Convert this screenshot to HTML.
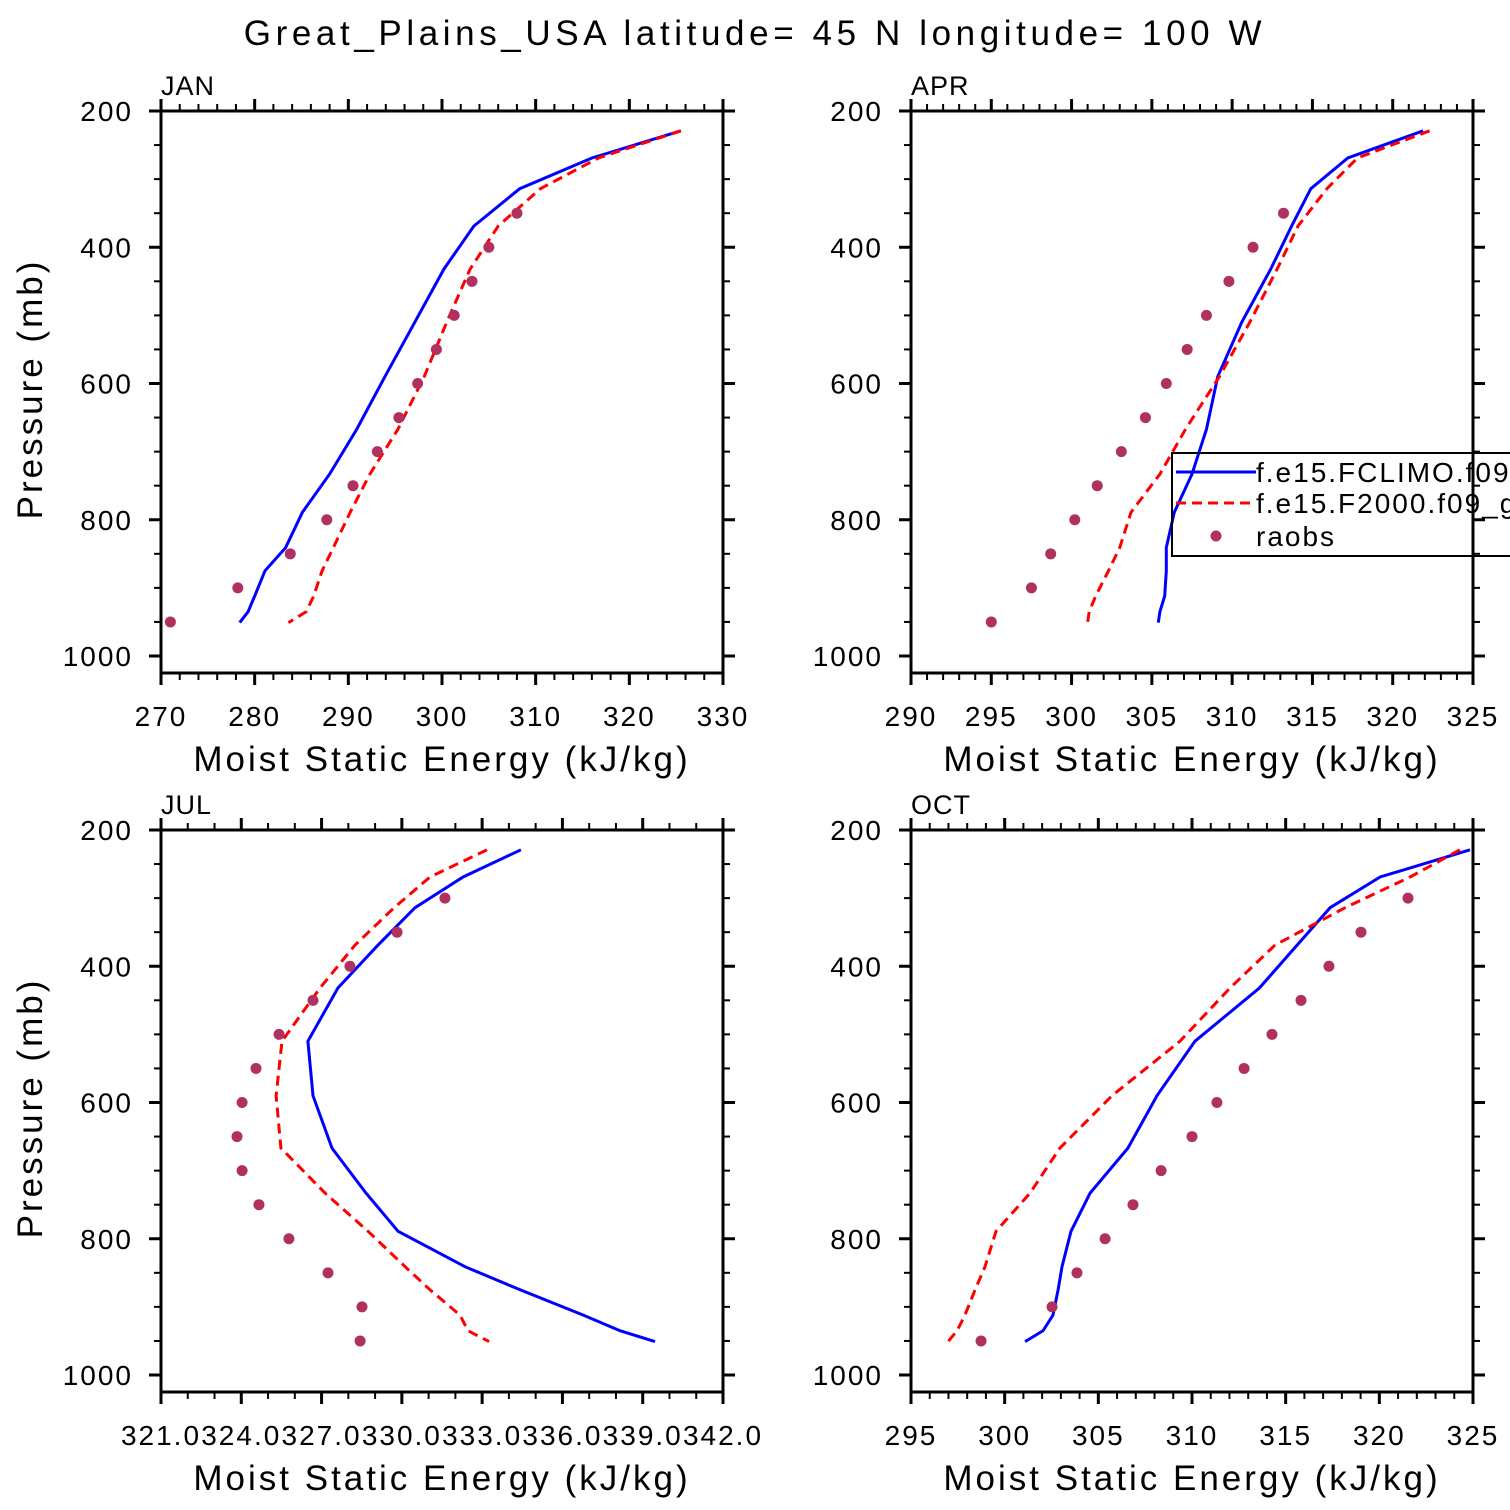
<!DOCTYPE html>
<html><head><meta charset="utf-8"><style>
html,body{margin:0;padding:0;background:#fff;}
svg{display:block;font-family:"Liberation Sans","DejaVu Sans",sans-serif;}
</style></head><body>
<svg id="chart" width="1510" height="1510" viewBox="0 0 1510 1510">
<text x="755" y="45" font-size="35" text-anchor="middle" letter-spacing="4.6">Great_Plains_USA  latitude= 45 N longitude= 100 W</text>
</svg>
<script>
const levels=[229,269,314,369,432,510,590,667,733,789,841,875,912,935,951];
const obsLevels=[300,350,400,450,500,550,600,650,700,750,800,850,900,950];
const janBlue=[325.5,316.0,308.3,303.4,300.2,297.1,293.9,290.9,288.0,285.1,283.3,281.1,280.0,279.3,278.4];
const janRed=[325.5,316.7,310.5,306.0,303.0,300.5,298.1,295.3,292.3,290.2,288.4,287.2,286.3,285.5,283.6];
const janObs=[null,308.0,305.0,303.2,301.3,299.4,297.4,295.4,293.1,290.5,287.7,283.8,278.2,271.0];
const aprBlue=[321.9,317.2,314.9,313.7,312.4,310.6,309.1,308.4,307.5,306.4,305.9,305.9,305.8,305.5,305.4];
const aprRed=[322.3,317.8,315.9,314.1,312.8,311.1,309.2,307.1,305.5,303.7,303.0,302.3,301.5,301.1,301.0];
const aprObs=[null,313.2,311.3,309.8,308.4,307.2,305.9,304.6,303.1,301.6,300.2,298.7,297.5,295.0];
const julBlue=[334.45,332.29,330.49,329.11,327.61,326.49,326.68,327.39,328.66,329.86,332.36,334.42,336.77,338.15,339.46];
const julRed=[333.18,331.05,329.71,328.25,326.94,325.52,325.30,325.48,327.13,328.74,330.12,331.05,332.17,332.47,333.26];
const julObs=[331.61,329.82,328.06,326.68,325.41,324.55,324.03,323.84,324.03,324.66,325.78,327.24,328.51,328.44];
const octBlue=[324.84,320.04,317.37,315.61,313.6,310.16,308.13,306.58,304.56,303.54,303.06,302.85,302.58,302.05,301.09];
const octRed=[324.3,321.64,318.17,314.43,312.03,309.36,305.73,302.95,301.35,299.54,298.95,298.42,297.88,297.46,296.98];
const octObs=[321.53,319.02,317.31,315.82,314.27,312.78,311.33,310.0,308.35,306.85,305.36,303.86,302.53,298.74];
const pTicks=[200,400,600,800,1000];
const janX=[270,280,290,300,310,320,330];
const aprX=[290,295,300,305,310,315,320,325];
const julX=[321.0,324.0,327.0,330.0,333.0,336.0,339.0,342.0];
const octX=[295,300,305,310,315,320,325];

const NS='http://www.w3.org/2000/svg';
const svg=document.getElementById('chart');
function mk(tag,attrs,parent){const e=document.createElementNS(NS,tag);for(const k in attrs)e.setAttribute(k,attrs[k]);(parent||svg).appendChild(e);return e;}

function panel(cfg){
  const {name,left,top,xmin,xmax,xticks,minorStep,dec,blue,red,obs}=cfg;
  const W=562,H=562;
  const g=mk('g',{});
  
  
  const xs=v=>left+(v-xmin)/(xmax-xmin)*W;
  const ys=p=>top+(p-200)*0.68125;
  const clipId='clip-'+name;
  const cp=mk('clipPath',{id:clipId},g);mk('rect',{x:left,y:top,width:W,height:H},cp);
  const nMinor=Math.round((xmax-xmin)/minorStep);
  for(let i=0;i<=nMinor;i++){
    const v=xmin+i*minorStep;const x=xs(v);
    const isMajor=xticks.some(t=>Math.abs(t-v)<1e-6);
    const L=isMajor?12:7;
    mk('line',{x1:x,y1:top+H,x2:x,y2:top+H+L,stroke:'#000','stroke-width':isMajor?3:2},g);
    mk('line',{x1:x,y1:top,x2:x,y2:top-L,stroke:'#000','stroke-width':isMajor?3:2},g);
  }
  for(let p=200;p<=1000;p+=50){
    const y=ys(p);const isMajor=p%200===0;const L=isMajor?12:7;
    mk('line',{x1:left,y1:y,x2:left-L,y2:y,stroke:'#000','stroke-width':isMajor?3:2},g);
    mk('line',{x1:left+W,y1:y,x2:left+W+L,y2:y,stroke:'#000','stroke-width':isMajor?3:2},g);
  }
  xticks.forEach(t=>{
    const tx=mk('text',{x:xs(t),y:top+H+53,'font-size':28,'text-anchor':'middle','letter-spacing':'2'},g);
    tx.textContent=t.toFixed(dec);
    
    
  });
  pTicks.forEach(p=>{
    const tx=mk('text',{x:left-28,y:ys(p)+10,'font-size':28,'text-anchor':'end','letter-spacing':'2'},g);
    tx.textContent=p;
    
    
  });
  const ttl=mk('text',{x:left,y:top-16,'font-size':27,'letter-spacing':'1'},g);ttl.textContent=cfg.label;
  
  
  const xt=mk('text',{x:left+W/2,y:top+H+98,'font-size':35,'text-anchor':'middle','letter-spacing':'3'},g);
  xt.textContent='Moist Static Energy (kJ/kg)';
  
  
  if(cfg.ylabel){
    const yt=mk('text',{x:0,y:0,'font-size':35,'text-anchor':'middle','letter-spacing':'3',transform:`translate(42,${top+H/2-3}) rotate(-90)`},g);
    yt.textContent='Pressure (mb)';
    
    
  }
  const dg=mk('g',{'clip-path':`url(#${clipId})`},g);
  const pts=arr=>arr.map((v,i)=>xs(v).toFixed(1)+','+ys(levels[i]).toFixed(1)).join(' ');
  const b=mk('polyline',{points:pts(blue),fill:'none',stroke:'#0000ff','stroke-width':3},dg);
  
  
  const r=mk('polyline',{points:pts(red),fill:'none',stroke:'#ff0000','stroke-width':3,'stroke-dasharray':'10,6'},dg);
  
  
  obs.forEach((v,i)=>{
    if(v==null)return;
    const c=mk('circle',{cx:xs(v),cy:ys(obsLevels[i]),r:5.5,fill:'#b03060'},dg);
    
    
  });
  mk('rect',{x:left,y:top,width:W,height:H,fill:'none',stroke:'#000','stroke-width':3},g);
}
panel({name:'jan',label:'JAN',left:161,top:111,xmin:270,xmax:330,xticks:janX,minorStep:2,dec:0,blue:janBlue,red:janRed,obs:janObs,ylabel:true});
panel({name:'apr',label:'APR',left:911,top:111,xmin:290,xmax:325,xticks:aprX,minorStep:1,dec:0,blue:aprBlue,red:aprRed,obs:aprObs});
panel({name:'jul',label:'JUL',left:161,top:830,xmin:321,xmax:342,xticks:julX,minorStep:1,dec:1,blue:julBlue,red:julRed,obs:julObs,ylabel:true});
panel({name:'oct',label:'OCT',left:911,top:830,xmin:295,xmax:325,xticks:octX,minorStep:1,dec:0,blue:octBlue,red:octRed,obs:octObs});

const lg=mk('g',{});


mk('rect',{x:1172,y:453,width:360,height:103,fill:'none',stroke:'#000','stroke-width':2},lg);
const l1=mk('line',{x1:1176,y1:472,x2:1256,y2:472,stroke:'#0000ff','stroke-width':3},lg);


const t1=mk('text',{x:1256,y:482,'font-size':28,'letter-spacing':'2'},lg);t1.textContent='f.e15.FCLIMO.f09_g16';


const l2=mk('line',{x1:1176,y1:503,x2:1256,y2:503,stroke:'#ff0000','stroke-width':3,'stroke-dasharray':'10,6'},lg);


const t2=mk('text',{x:1256,y:513,'font-size':28,'letter-spacing':'2'},lg);t2.textContent='f.e15.F2000.f09_g16';


const c3=mk('circle',{cx:1216,cy:536,r:5.5,fill:'#b03060'},lg);


const t3=mk('text',{x:1256,y:546,'font-size':28,'letter-spacing':'2'},lg);t3.textContent='raobs';


</script>
</body></html>
